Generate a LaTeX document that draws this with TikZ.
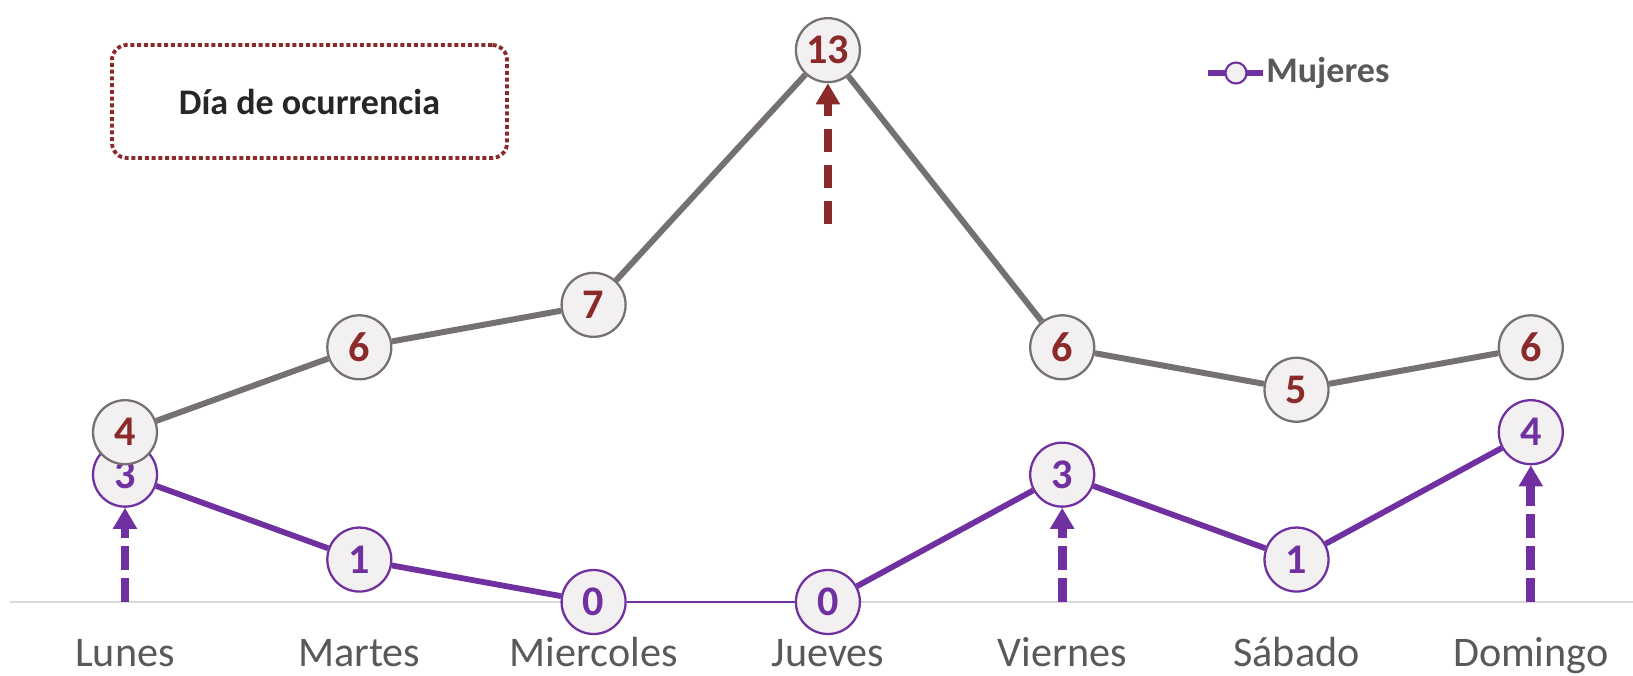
\documentclass[tikz,border=0pt]{standalone}
\usepackage{fontspec}
\setmainfont{Carlito}
\usetikzlibrary{arrows.meta}

\definecolor{morado}{HTML}{7030A0}
\definecolor{vino}{HTML}{8B2A2A}
\definecolor{grislinea}{HTML}{767171}
\definecolor{relleno}{HTML}{F2F0F0}
\definecolor{gristexto}{HTML}{595959}
\definecolor{ejegris}{HTML}{D9D9D9}

\tikzset{
  punto/.style={circle, minimum size=1.28cm, inner sep=0pt, fill=relleno, line width=1.3pt,
    font=\bfseries\fontsize{24}{24}\selectfont},
  ptotal/.style={punto, draw=grislinea, text=vino},
  pmujer/.style={punto, draw=morado, text=morado},
  flecha/.style={line width=5pt, -{Triangle[width=0.46cm,length=0.42cm]}},
  dia/.style={anchor=base, text=gristexto, font=\fontsize{24}{24}\selectfont},
}

\begin{document}
\begin{tikzpicture}
\useasboundingbox (0,0) rectangle (32.66,13.5);

% eje horizontal
\draw[ejegris, line width=0.7pt] (0.2,1.46) -- (32.66,1.46);

% recuadro del titulo
\node [draw=vino, line width=2.2pt, dash pattern=on 0.08cm off 0.055cm, rounded corners=0.3cm,
  minimum width=7.9cm, minimum height=2.26cm, text=black!85,
  font=\bfseries\fontsize{20.5}{20.5}\selectfont] (titulo) at (6.19,11.47) {Día de ocurrencia};

% leyenda
\coordinate (leyA) at (24.16,12.04);
\coordinate (leyB) at (25.26,12.04);
\draw[morado, line width=3pt] (leyA) -- (leyB);
\node [circle, draw=morado, fill=relleno, line width=1.2pt, minimum size=0.42cm, inner sep=0pt] (leyC) at (24.72,12.04) {};
\node [anchor=west, inner sep=0pt, text=gristexto, font=\bfseries\fontsize{20.5}{20.5}\selectfont] (leyT) at (25.32,12.04) {Mujeres};

\begin{scope}[shift={(2.5,1.46)}, x=4.686cm, y=0.849cm]
  % dias
  \foreach \d [count=\i from 0] in {Lunes,Martes,Miercoles,Jueves,Viernes,Sábado,Domingo}
    \node [dia] (dia\i) at (\i,-1.53) {\d};

  % serie mujeres
  \foreach \v [count=\i from 0] in {3,1,0,0,3,1,4}
    \node [pmujer] (m\i) at (\i,\v) {\v};
  \draw[morado, line width=3.3pt] (m0) -- (m1) -- (m2);
  \draw[morado, line width=1.6pt] (m2) -- (m3);
  \draw[morado, line width=3.3pt] (m3) -- (m4) -- (m5) -- (m6);

  % serie total
  \foreach \v [count=\i from 0] in {4,6,7,13,6,5,6}
    \node [ptotal] (t\i) at (\i,\v) {\v};
  \draw[grislinea, line width=3.4pt] (t0) -- (t1) -- (t2) -- (t3) -- (t4) -- (t5) -- (t6);

  % flechas
  \coordinate (f0) at (0,0);
  \coordinate (f4) at (4,0);
  \coordinate (f6) at (6,0);
  \coordinate (f3) at (3,8.9);
  \foreach \a/\b in {f0/m0, f4/m4, f6/m6}
    \draw[flecha, morado, dash pattern=on 0.48cm off 0.16cm] (\a) -- (\b.south);
  \draw[flecha, vino, dash pattern=on 0.46cm off 0.26cm] (f3) -- (t3.south);
\end{scope}
\end{tikzpicture}
\end{document}
